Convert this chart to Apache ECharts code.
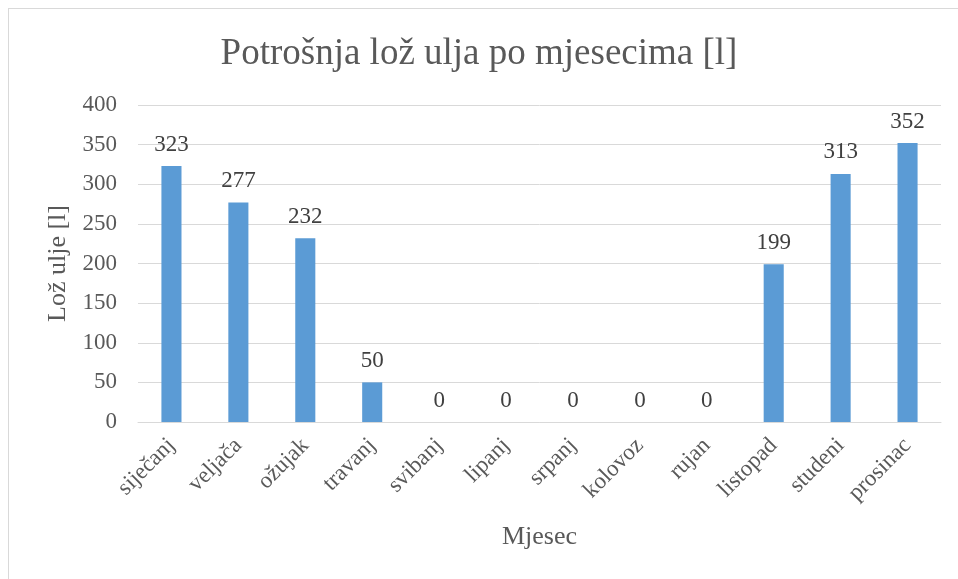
<!DOCTYPE html>
<html>
<head>
<meta charset="utf-8">
<script src="https://cdn.jsdelivr.net/npm/echarts@6/dist/echarts.min.js"></script>
<style>
  html, body { margin: 0; padding: 0; background: #fff; overflow: hidden; }
  #wrap { position: absolute; left: 8px; top: 8px; width: 1000px; height: 620px; border: 1px solid #d9d9d9; box-sizing: border-box; }
  #chart { position: absolute; left: 0; top: 0; width: 958px; height: 579px; }
</style>
</head>
<body>
<div id="wrap"></div>
<div id="chart"></div>
<script>
// 月份
const months = ['siječanj', 'veljača', 'ožujak', 'travanj', 'svibanj', 'lipanj', 'srpanj', 'kolovoz', 'rujan', 'listopad', 'studeni', 'prosinac']
// potrošnja [l]
const values = [323, 277, 232, 50, 0, 0, 0, 0, 0, 199, 313, 352]
const yTicks = [0, 50, 100, 150, 200, 250, 300, 350, 400]

const font = '"Liberation Serif", "Times New Roman", serif'
const textColor = '#595959'

var myChart = echarts.init(document.getElementById('chart'), null, { renderer: 'canvas' })
var option = {
  animation: false,
  textStyle: { fontFamily: font },
  title: {
    text: 'Potrošnja lož ulja po mjesecima [l]',
    left: 'center',
    top: 31,
    textStyle: { fontFamily: font, fontSize: 37, fontWeight: 'normal', color: textColor }
  },
  grid: { left: 138, right: 17, top: 105, bottom: 157 },
  xAxis: {
    type: 'category',
    data: months,
    name: 'Mjesec',
    nameLocation: 'middle',
    nameGap: 102,
    nameTextStyle: { fontFamily: font, fontSize: 26, color: textColor },
    axisLine: { lineStyle: { color: '#d9d9d9', width: 1 } },
    axisTick: { show: false },
    axisLabel: {
      interval: 0,
      rotate: 45,
      margin: 20,
      fontFamily: font,
      fontSize: 23,
      color: textColor
    }
  },
  yAxis: {
    type: 'value',
    min: yTicks[0],
    max: yTicks[yTicks.length - 1],
    interval: 50,
    name: 'Lož ulje [l]',
    nameLocation: 'middle',
    nameGap: 66,
    nameTextStyle: { fontFamily: font, fontSize: 26, color: textColor },
    axisLine: { show: false },
    axisTick: { show: false },
    axisLabel: { fontFamily: font, fontSize: 23, color: textColor, margin: 21 },
    splitLine: { lineStyle: { color: '#d9d9d9', width: 1 } }
  },
  series: [{
    type: 'bar',
    data: values,
    barWidth: '30%',
    itemStyle: { color: '#5b9bd5' },
    label: {
      show: true,
      position: 'top',
      distance: 10,
      fontFamily: font,
      fontSize: 23,
      color: '#404040'
    }
  }]
}
myChart.setOption(option, true)
</script>
</body>
</html>
